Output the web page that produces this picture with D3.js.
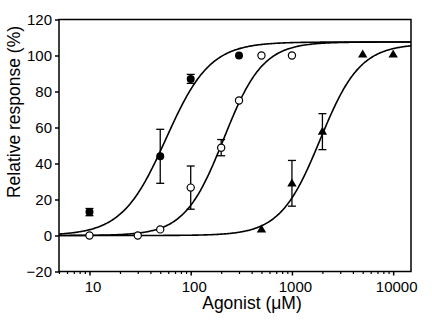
<!DOCTYPE html>
<html><head><meta charset="utf-8">
<script src="https://cdn.jsdelivr.net/npm/d3@7"></script>
<style>body{margin:0;background:#fff}svg{display:block}text{font-family:"Liberation Sans",Arial,sans-serif;fill:#000}</style>
</head><body><svg id="c" width="432" height="320"></svg>
<script>
// Data
const filledConc = [10, 50, 100, 300];
const filledResp = [13, 44, 87, 100];
const filledErr  = [2, 15, 2.5, 0];

const openConc = [10, 30, 50, 100, 200, 300, 500, 1000];
const openResp = [0, 0, 3.4, 26.6, 48.8, 75, 100, 100];
const openErr  = [0, 0, 0, 12, 4.5, 0, 0, 0];

const triConc = [500, 1000, 2000, 5000, 10000];
const triResp = [3.4, 29, 57.7, 100.6, 100.6];
const triErr  = [0, 12.7, 10, 0, 0];

// Fitted Hill curves: [top, EC50, slope]
const filledFit = [107.5, 57, 2.0];
const openFit   = [107.5, 212, 2.25];
const triFit    = [106.5, 1900, 2.2];

const xTickValues = [10, 100, 1000, 10000];
const yTickValues = [-20, 0, 20, 40, 60, 80, 100, 120];
const xTitle = "Agonist (\u03BCM)";
const yTitle = "Relative response (%)";

const svg = d3.select("#c");
const L = 59, R = 411, T = 19.5, B = 271.5;
const x = d3.scaleLog().domain([5, 15000]).range([L, R]);
const y = d3.scaleLinear().domain([-20, 120]).range([B, T]);

// curves
const hill = p => c => p[0] * Math.pow(c, p[2]) / (Math.pow(c, p[2]) + Math.pow(p[1], p[2]));
const samples = d3.range(0, 401).map(i => Math.pow(10, Math.log10(5) + i / 400 * (Math.log10(15000) - Math.log10(5))));
const line = d3.line().x(d => x(d[0])).y(d => y(d[1]));
[filledFit, openFit, triFit].forEach(p => {
  const f = hill(p);
  svg.append("path").attr("d", line(samples.map(c => [c, f(c)])))
    .attr("fill", "none").attr("stroke", "#000").attr("stroke-width", 1.6);
});

// error bars
function errBars(conc, resp, err) {
  conc.forEach((c, i) => {
    if (!err[i]) return;
    const cx = x(c), y1 = y(resp[i] + err[i]), y2 = y(resp[i] - err[i]);
    const g = svg.append("g").attr("stroke", "#000").attr("stroke-width", 1.3);
    g.append("line").attr("x1", cx).attr("x2", cx).attr("y1", y1).attr("y2", y2);
    g.append("line").attr("x1", cx - 4).attr("x2", cx + 4).attr("y1", y1).attr("y2", y1);
    g.append("line").attr("x1", cx - 4).attr("x2", cx + 4).attr("y1", y2).attr("y2", y2);
  });
}
errBars(filledConc, filledResp, filledErr);
errBars(openConc, openResp, openErr);
errBars(triConc, triResp, triErr);

// symbols
filledConc.forEach((c, i) => svg.append("circle").attr("cx", x(c)).attr("cy", y(filledResp[i])).attr("r", 4).attr("fill", "#000"));
openConc.forEach((c, i) => svg.append("circle").attr("cx", x(c)).attr("cy", y(openResp[i])).attr("r", 3.6).attr("fill", "#fff").attr("stroke", "#000").attr("stroke-width", 1.2));
const tri = d3.symbol().type(d3.symbolTriangle).size(38);
triConc.forEach((c, i) => svg.append("path").attr("d", tri()).attr("transform", `translate(${x(c)},${y(triResp[i]) + 0.5})`).attr("fill", "#000"));

// frame
svg.append("rect").attr("x", L).attr("y", T).attr("width", R - L).attr("height", B - T)
  .attr("fill", "none").attr("stroke", "#000").attr("stroke-width", 1.5);

// y axis
const yAxis = d3.axisLeft(y).tickValues(yTickValues).tickSize(4).tickPadding(3).tickFormat(d3.format("d"));
const gy = svg.append("g").attr("transform", `translate(${L},0)`).call(yAxis);
gy.select(".domain").remove();
gy.selectAll("line").attr("stroke-width", 1.5);
gy.selectAll("text").attr("font-size", 15).attr("font-family", "Liberation Sans, Arial, sans-serif");

// x axis: minor ticks
const minor = [];
[1, 10, 100, 1000, 10000].forEach(d => { for (let k = 2; k <= 9; k++) { const v = d * k; if (v >= 5 && v <= 15000) minor.push(v); } });
const gxm = svg.append("g").attr("transform", `translate(0,${B})`).call(d3.axisBottom(x).tickValues(minor).tickSize(2.5).tickFormat(""));
gxm.select(".domain").remove();
gxm.selectAll("line").attr("stroke-width", 1.2);
const gx = svg.append("g").attr("transform", `translate(0,${B})`).call(d3.axisBottom(x).tickValues(xTickValues).tickSize(4).tickPadding(6).tickFormat(d3.format("d")));
gx.select(".domain").remove();
gx.selectAll("line").attr("stroke-width", 1.5);
gx.selectAll("text").attr("font-size", 15).attr("dx", 3).attr("font-family", "Liberation Sans, Arial, sans-serif");

// titles
svg.append("text").attr("x", 252).attr("y", 309).attr("text-anchor", "middle").attr("font-size", 17.5).text(xTitle);
svg.append("text").attr("transform", "translate(20,112) rotate(-90)").attr("text-anchor", "middle").attr("font-size", 17.5).text(yTitle);
</script></body></html>
